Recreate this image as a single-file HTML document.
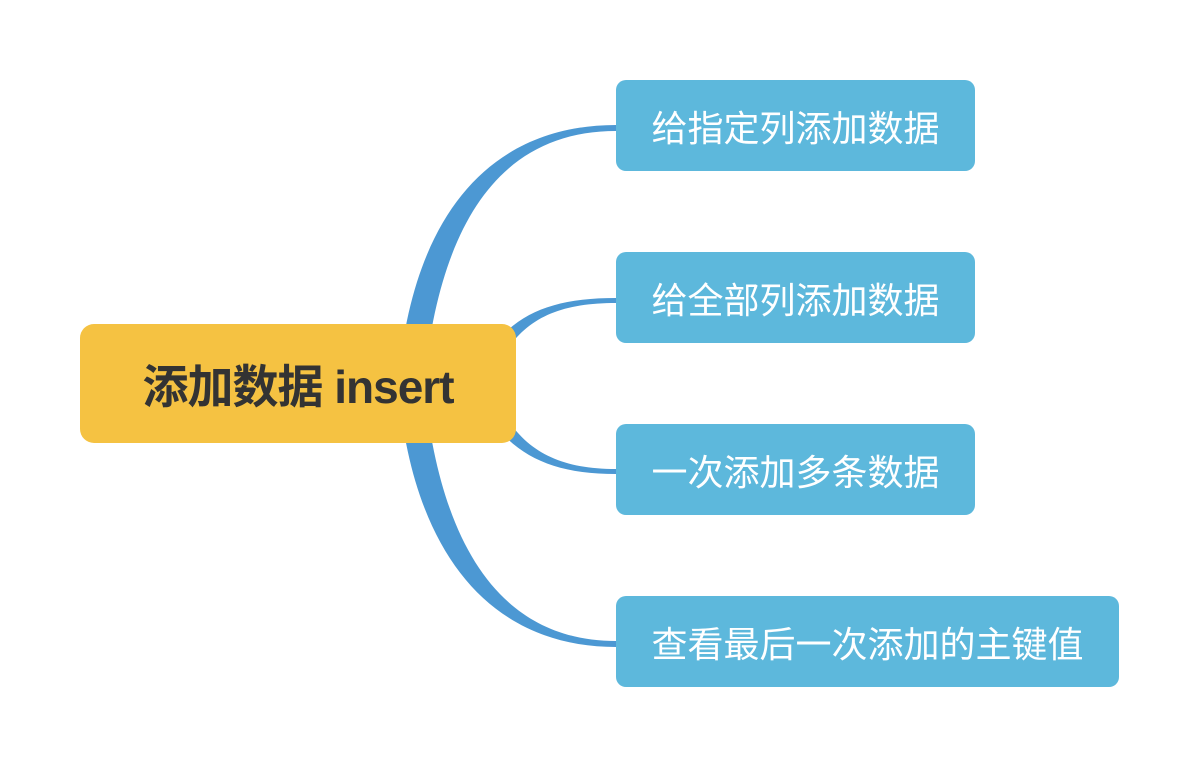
<!DOCTYPE html>
<html><head><meta charset="utf-8"><style>
body{margin:0;width:1200px;height:768px;background:#fff;position:relative;overflow:hidden;font-family:"Liberation Sans","Noto Sans CJK SC",sans-serif}
.n{position:absolute;left:616px;height:91px;width:359px;background:#5DB8DC;border-radius:10px;color:#fff;font-size:36px;display:flex;align-items:center;justify-content:center}
.c{position:absolute;left:80px;top:324px;width:436px;height:119px;background:#F5C242;border-radius:14px;color:#333;font-size:46px;font-weight:bold;display:flex;align-items:center;justify-content:center;letter-spacing:-1px}
</style></head><body>
<svg width="1200" height="768" style="position:absolute;left:0;top:0">
<g fill="#4C98D3">
<path d="M398,384 C412,215 490,125 616,125 L616,131 C502,131 440,220 424,384 Z"/>
<path d="M398,384 C412,553 490,647 616,647 L616,641 C502,641 440,548 424,384 Z"/>
<path d="M470,384 C500,320 540,298 616,298 L616,303 C548,303 512,325 490,384 Z"/>
<path d="M470,384 C500,448 540,474 616,474 L616,469 C548,469 512,443 490,384 Z"/>
</g></svg>
<div class="c">添加数据 insert</div>
<div class="n" style="top:80px">给指定列添加数据</div>
<div class="n" style="top:252px">给全部列添加数据</div>
<div class="n" style="top:424px">一次添加多条数据</div>
<div class="n" style="top:596px;width:503px">查看最后一次添加的主键值</div>
</body></html>
